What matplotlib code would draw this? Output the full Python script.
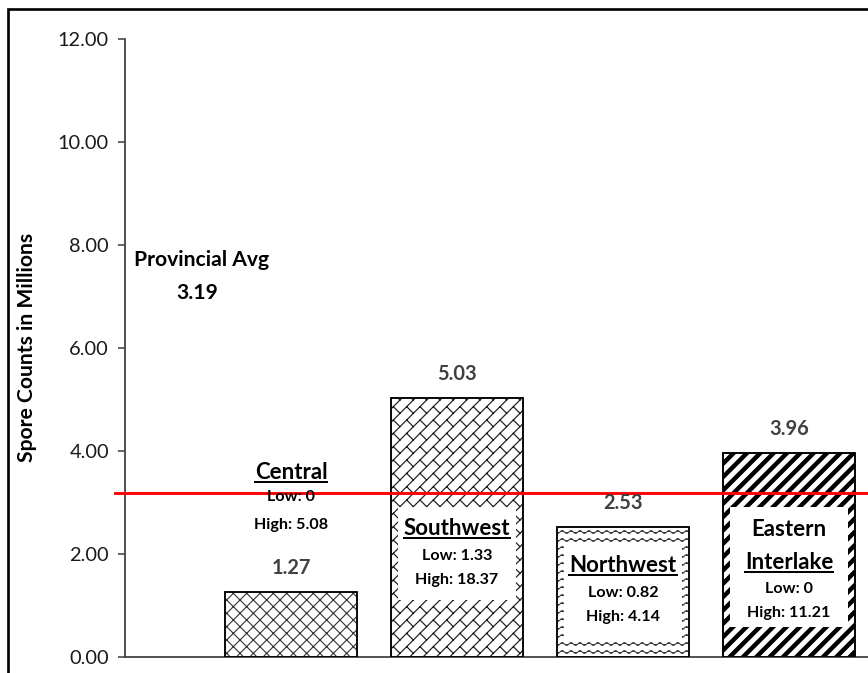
import warnings
warnings.filterwarnings("ignore")
import numpy as np
import matplotlib
matplotlib.use("Agg")
import matplotlib.pyplot as plt
import matplotlib.hatch as mhatch
from matplotlib.path import Path
from matplotlib.patches import Rectangle
from matplotlib.lines import Line2D

# ---------------- data ----------------
regions = ["Central", "Southwest", "Northwest", "Eastern Interlake"]
title_lines = [["Central"], ["Southwest"], ["Northwest"], ["Eastern", "Interlake"]]
values = [1.27, 5.03, 2.53, 3.96]
lows = ["0", "1.33", "0.82", "0"]
highs = ["5.08", "18.37", "4.14", "11.21"]
provincial_avg = 3.19
yticks = [0, 2, 4, 6, 8, 10, 12]


# ---------- custom hatch patterns ----------
class WaveHatch(mhatch.HatchPatternBase):
    """horizontal wavy rows, triggered by 'z'"""
    def __init__(self, hatch, density):
        self.num_rows = 10 if 'z' in hatch else 0
        self.waves = 9
        self.n = self.waves * 8 + 1
        self.num_vertices = self.num_rows * self.n

    def set_vertices_and_codes(self, vertices, codes):
        n = self.n
        xs = np.linspace(0, 1, n)
        amp = 0.018
        for r in range(self.num_rows):
            y0 = (r + 0.5) / self.num_rows
            ys = y0 + amp * np.sin(2 * np.pi * self.waves * xs)
            vertices[r * n:(r + 1) * n, 0] = xs
            vertices[r * n:(r + 1) * n, 1] = ys
            codes[r * n] = Path.MOVETO
            codes[r * n + 1:(r + 1) * n] = Path.LINETO


def _brick_segments(nrows=6, p=3):
    segs = []
    L = 1.0 / p
    for k in range(-2 * nrows, 2 * nrows + 1):
        v0 = k / nrows
        v1 = (k + 1) / nrows
        segs.append(((-2.0, v0), (4.0, v0)))
        off = (k % 2) * L / 2
        for m in range(-3 * p, 5 * p):
            u = m * L + off
            segs.append(((u, v0), (u, v1)))
    out = []
    for (u0, va), (u1, vb) in segs:
        p0 = ((u0 - va) / 2, (u0 + va) / 2)
        p1 = ((u1 - vb) / 2, (u1 + vb) / 2)
        xmin, xmax = min(p0[0], p1[0]), max(p0[0], p1[0])
        ymin, ymax = min(p0[1], p1[1]), max(p0[1], p1[1])
        if xmax < -0.05 or xmin > 1.05 or ymax < -0.05 or ymin > 1.05:
            continue
        out.append((p0, p1))
    return out


_BRICKS = _brick_segments()


class BrickHatch(mhatch.HatchPatternBase):
    """diagonal brick weave, triggered by 'b'"""
    def __init__(self, hatch, density):
        self.on = 'b' in hatch
        self.num_vertices = 2 * len(_BRICKS) if self.on else 0

    def set_vertices_and_codes(self, vertices, codes):
        for i, (p0, p1) in enumerate(_BRICKS):
            vertices[2 * i] = p0
            vertices[2 * i + 1] = p1
            codes[2 * i] = Path.MOVETO
            codes[2 * i + 1] = Path.LINETO


mhatch._hatch_types.append(WaveHatch)
mhatch._hatch_types.append(BrickHatch)

DPI = 80
W, H = 868, 673
plt.rcParams['font.family'] = ['Lato', 'DejaVu Sans']
fig = plt.figure(figsize=(W / DPI, H / DPI), dpi=DPI)
fig.patch.set_facecolor('white')

# outer frame
fig.patches.append(Rectangle((8 / W, -0.05), 1.2, 1 - 9 / H + 0.05, transform=fig.transFigure,
                             fill=False, edgecolor='black', linewidth=2.4, zorder=0))

ax_left = 125 / W
ax_bottom = (H - 657) / H
ax_height = (657 - 39) / H
ax_width = 4.5 * 166 / W
ax = fig.add_axes([ax_left, ax_bottom, ax_width, ax_height])
ax.set_xlim(0, 4.5)
ax.set_ylim(0, 12)
ax.patch.set_alpha(0)

xs = np.arange(1, len(regions) + 1)
hatches = ['xx', 'b', 'z', '//']
hatch_lw = [1.0, 1.1, 0.9, 4.0]
hatch_col = ['#333333', '#222222', '#3a3a3a', 'black']
for x, v, h, hl, hc in zip(xs, values, hatches, hatch_lw, hatch_col):
    b = ax.bar(x, v, width=0.8, color='white', edgecolor=hc, linewidth=1.4,
               hatch=h, zorder=2)[0]
    try:
        b.set_hatch_linewidth(hl)
    except Exception:
        pass
    ax.bar(x, v, width=0.8, fill=False, edgecolor='black', linewidth=1.5, zorder=4)

# provincial average line
ax.axhline(provincial_avg, xmin=-10 / (4.5 * 166), xmax=1, color='#ff0000', lw=2.6,
           zorder=5, clip_on=False)

# axes styling
for s in ['top', 'right']:
    ax.spines[s].set_visible(False)
ax.spines['left'].set_color('#404040')
ax.spines['bottom'].set_color('#404040')
ax.spines['left'].set_linewidth(1.6)
ax.spines['bottom'].set_linewidth(1.6)
ax.set_xticks([])
ax.set_yticks(yticks)
ax.set_yticklabels([f"{t:.2f}" for t in yticks])
ax.tick_params(axis='y', direction='out', length=6.5, width=1.4, color='#404040',
               pad=8, labelsize=18, labelcolor='#1a1a1a')

fig.text(27 / W, 1 - 347 / H, "Spore Counts in Millions", rotation=90, ha='center',
         va='center', fontsize=19, fontweight='bold', color='black')

# value labels
for x, v in zip(xs, values):
    ax.annotate(f"{v:.2f}", (x, v), xytext=(0, 21.5), textcoords='offset points',
                ha='center', va='center', fontsize=18, fontweight='bold',
                color='#404040', zorder=6)

# white boxes inside bars (Southwest, Northwest, Eastern Interlake)
box_spans = {1: (1.11, 2.91), 2: (0.37, 2.21), 3: (0.58, 2.91)}
for i, (y0, y1) in box_spans.items():
    ax.add_patch(Rectangle((xs[i] - 0.355, y0), 0.71, y1 - y0, facecolor='white',
                           edgecolor='none', zorder=3))

# region annotations: title line(s), low, high  (y centres in data units)
layout = {
    0: ([3.59], 3.11, 2.56),
    1: ([2.50], 1.96, 1.50),
    2: ([1.77], 1.24, 0.78),
    3: ([2.47, 1.83], 1.32, 0.85),
}
underline_texts = []
for i in range(len(regions)):
    ty, ly, hy = layout[i]
    for j, (line, yy) in enumerate(zip(title_lines[i], ty)):
        t = ax.text(xs[i], yy, line, ha='center', va='center', fontsize=20,
                    fontweight='bold', color='black', zorder=6)
        if j == len(title_lines[i]) - 1:
            underline_texts.append(t)
    ax.text(xs[i], ly, f"Low: {lows[i]}", ha='center', va='center', fontsize=14.5,
            fontweight='bold', color='black', zorder=6)
    ax.text(xs[i], hy, f"High: {highs[i]}", ha='center', va='center', fontsize=14.5,
            fontweight='bold', color='black', zorder=6)

ax.text(0.464, 7.71, "Provincial Avg", ha='center', va='center', fontsize=19,
        fontweight='bold', color='black')
ax.text(0.435, 7.07, f"{provincial_avg:.2f}", ha='center', va='center', fontsize=19,
        fontweight='bold', color='black')

# underlines
fig.canvas.draw()
r = fig.canvas.get_renderer()
for t in underline_texts:
    bb = t.get_window_extent(r)
    yline = bb.y0 + 1
    fig.add_artist(Line2D([bb.x0 / W, bb.x1 / W], [yline / H, yline / H],
                          transform=fig.transFigure, color='black', lw=1.8, zorder=7))

fig.savefig("out.png", dpi=DPI)
